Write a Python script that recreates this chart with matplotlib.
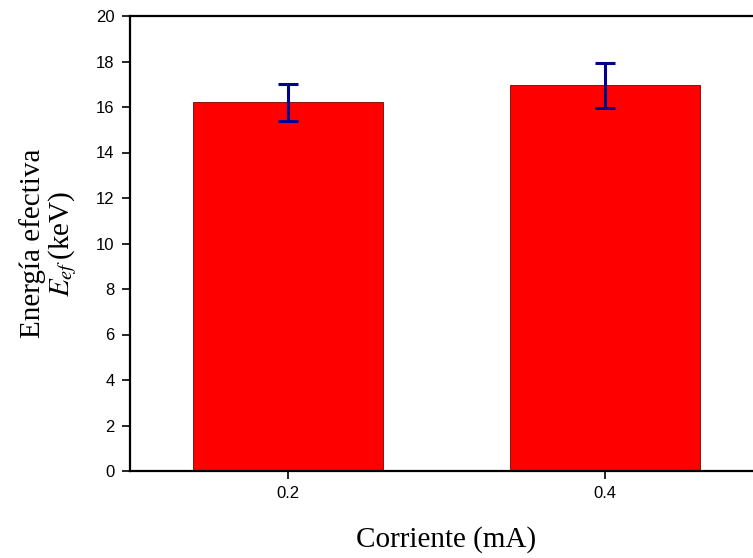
import matplotlib
matplotlib.use('Agg')
import matplotlib.pyplot as plt
import numpy as np

# corriente del tubo y energia efectiva medida
corriente = [0.2, 0.4]
energia_ef = [16.2, 16.95]
error_ef = [0.8, 1.0]
yticks = [0, 2, 4, 6, 8, 10, 12, 14, 16, 18, 20]

plt.rcParams['mathtext.fontset'] = 'stix'

fig = plt.figure(figsize=(7.53, 5.58), dpi=100)
# the right spine lies just past the right edge of the canvas
ax = fig.add_axes([130 / 753, 1 - 471 / 558, 633 / 753, 455 / 558])

ax.bar(corriente, energia_ef, width=0.12, color='#ff0000', edgecolor='#7a0000',
       linewidth=0.6, zorder=2)
ax.errorbar(corriente, energia_ef, yerr=error_ef, fmt='none', ecolor='#00008b',
            elinewidth=2.2, capsize=7, capthick=2.2, zorder=3)

ax.set_xlim(0.1, 0.5)
ax.set_ylim(0, 20)
ax.set_xticks(corriente)
ax.set_xticklabels(['0.2', '0.4'])
ax.set_yticks(yticks)
for sp in ax.spines.values():
    sp.set_linewidth(1.6)
ax.tick_params(direction='out', length=6, width=1.2, labelsize=12,
               pad=5)
for lab in ax.get_xticklabels() + ax.get_yticklabels():
    lab.set_family('Liberation Sans')

ax.set_xlabel('Corriente (mA)', family='Liberation Serif', fontsize=21,
              labelpad=18)
ax.set_ylabel('Energía efectiva\n$E_{ef}\\,$(keV)', family='Liberation Serif',
              fontsize=21, labelpad=12, linespacing=1.05)

fig.savefig('out.png', dpi=100)
